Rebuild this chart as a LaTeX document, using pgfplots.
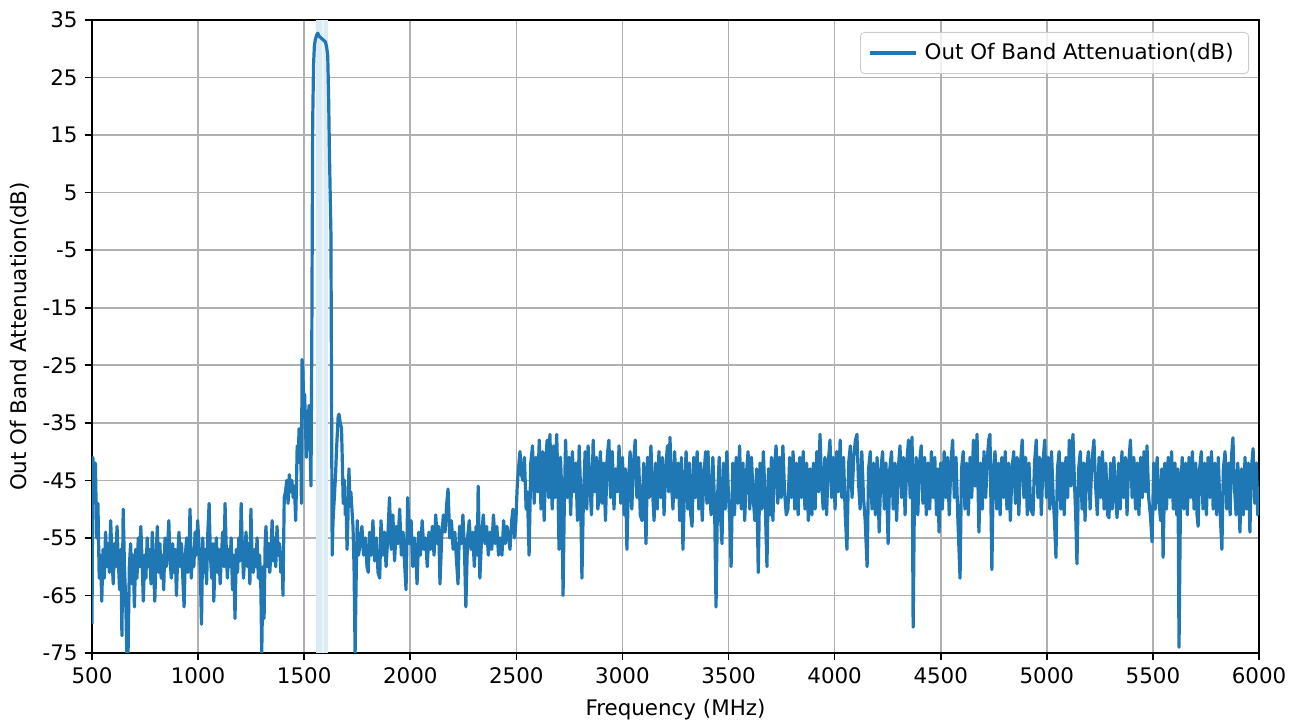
\documentclass[border=0pt]{standalone}
\usepackage{fontspec}
\setmainfont{DejaVu Sans}
\usepackage{pgfplots}
\pgfplotsset{compat=1.18}
\definecolor{mplblue}{RGB}{31,119,180}
\definecolor{band}{RGB}{218,235,243}
\definecolor{bandlight}{RGB}{235,244,249}
\definecolor{gridgray}{RGB}{176,176,176}
\definecolor{legframe}{RGB}{204,204,204}
\newcommand{\chartfont}{\fontsize{10.7}{12.8}\selectfont}
\begin{document}
\begin{tikzpicture}
\begin{axis}[
    scale only axis,
    width=583.5pt, height=316.5pt,
    xmin=500, xmax=6000, ymin=-75, ymax=35,
    xtick={500,1000,...,6000},
    ytick={-75,-65,...,35},
    grid=major,
    major grid style={color=gridgray, line width=0.85pt},
    axis line style={line width=0.85pt},
    tick align=outside, xtick pos=left, ytick pos=left,
    major tick length=3.7pt,
    tick style={black, line width=0.85pt},
    font=\chartfont,
    ticklabel style={font=\chartfont},
    /pgf/number format/assume math mode=true,
    /pgf/number format/fixed,
    /pgf/number format/1000 sep={},
    xlabel={Frequency (MHz)},
    ylabel={Out Of Band Attenuation(dB)},
    xlabel style={yshift=-1pt},
    legend style={at={(1,1)}, anchor=north east, xshift=-5pt, yshift=-6pt,
        draw=legframe, fill=white, fill opacity=0.8, text opacity=1,
        rounded corners=2pt, inner xsep=4pt, inner ysep=3.5pt,
        nodes={inner xsep=3.5pt},
        font=\chartfont},
    legend cell align=left,
    legend image code/.code={\draw[#1] (0pt,0pt) -- (23pt,0pt);},
]
\addplot[draw=none, fill=band, forget plot] coordinates {(1558,-75) (1558,35) (1612,35) (1612,-75)} -- cycle;
\addplot[draw=none, fill=bandlight, forget plot] coordinates {(1582,-75) (1582,35) (1592,35) (1592,-75)} -- cycle;
\addplot[color=mplblue, line width=1.6pt, line join=round] table {
500 -70
504 -41
510 -46
516 -42
522 -55
528 -49
534 -62
540 -58
546 -66
552 -57
558 -62
564 -54
570 -60
576 -56
582 -61
588 -52
594 -58
600 -63
606 -56
612 -60
618 -53
624 -59
630 -64
636 -57
641 -72
647 -50
653 -60
659 -66
664 -75
670 -75
676 -60
682 -56
688 -63
694 -58
700 -67
706 -57
712 -62
718 -55
724 -60
730 -53
736 -59
742 -66
748 -58
754 -62
760 -55
766 -60
772 -57
778 -63
784 -54
790 -60
796 -66
802 -58
808 -53
814 -61
820 -56
826 -62
832 -58
838 -64
844 -55
850 -60
856 -57
862 -52
868 -59
874 -62
880 -56
886 -61
892 -57
898 -65
904 -58
910 -54
916 -60
922 -56
928 -62
934 -67
940 -58
946 -55
952 -61
958 -56
962 -50
968 -62
974 -57
980 -60
986 -54
992 -58
998 -52
1004 -56
1010 -60
1016 -70
1022 -55
1028 -61
1034 -57
1040 -63
1046 -54
1052 -49
1058 -58
1064 -62
1070 -56
1074 -66
1080 -59
1086 -55
1092 -61
1098 -57
1104 -63
1110 -58
1116 -54
1122 -60
1127 -49
1132 -56
1138 -62
1144 -57
1150 -60
1156 -55
1162 -64
1168 -58
1174 -69
1180 -57
1186 -61
1192 -55
1198 -59
1203 -49
1208 -56
1214 -62
1220 -58
1226 -54
1232 -60
1238 -56
1244 -63
1249 -50
1254 -58
1260 -61
1266 -57
1272 -60
1278 -55
1284 -62
1290 -58
1296 -64
1300 -75
1306 -60
1311 -69
1316 -56
1320 -53
1326 -60
1332 -56
1338 -61
1344 -57
1349 -52
1354 -59
1360 -55
1366 -60
1372 -53
1378 -58
1384 -56
1390 -61
1396 -58
1400 -65
1406 -48
1412 -47
1418 -45
1424 -49
1430 -44
1436 -47
1442 -45
1448 -48
1454 -46
1460 -52
1464 -45
1467 -39
1472 -41
1476 -36
1480 -42
1484 -38
1487 -49
1490 -24
1494 -26
1498 -32
1502 -30
1506 -35
1510 -41
1514 -33
1518 -35
1523 -32
1528 -40
1532 -46
1536 -20
1540 17
1544 27
1548 30.5
1552 31.5
1558 32.3
1564 32.7
1570 32.2
1576 32.0
1582 31.8
1588 31.6
1594 31.4
1600 31.2
1606 30.3
1611 28.8
1615 22
1619 12
1623 4
1626 -2
1629 -30
1632 -58
1636 -52
1642 -48
1648 -44
1652 -40
1656 -37
1660 -34
1664 -33.5
1670 -35
1676 -36
1680 -42
1684 -49
1690 -45
1694 -51
1698 -50
1702 -57
1706 -52
1711 -43
1715 -48
1720 -47
1725 -50
1730 -53
1735 -60
1740 -75
1745 -62
1750 -52
1756 -58
1764 -56
1772 -53
1780 -58
1788 -55
1796 -60
1802 -61
1808 -54
1816 -58
1824 -52
1832 -59
1840 -55
1848 -61
1856 -62
1862 -52
1870 -58
1878 -54
1886 -60
1894 -55
1902 -48
1910 -57
1918 -51
1926 -59
1934 -53
1942 -56
1950 -50
1958 -58
1966 -54
1974 -60
1980 -64
1988 -48
1996 -56
2004 -52
2012 -60
2020 -55
2026 -58
2032 -63
2040 -54
2048 -58
2056 -52
2064 -57
2072 -55
2080 -60
2088 -54
2096 -57
2104 -53
2112 -58
2120 -51
2128 -56
2134 -53
2140 -63
2148 -55
2156 -51
2164 -54
2172 -49
2178 -46.5
2186 -55
2194 -52
2202 -57
2210 -54
2218 -59
2225 -63
2232 -53
2240 -56
2248 -51
2256 -58
2262 -67
2270 -55
2278 -52
2286 -57
2294 -54
2302 -60
2310 -53
2316 -58
2320 -46
2328 -62
2336 -55
2344 -51
2352 -56
2360 -53
2368 -58
2376 -54
2384 -57
2392 -51
2400 -56
2408 -53
2416 -58
2424 -55
2432 -58
2440 -52
2448 -56
2456 -53
2464 -55
2470 -57
2478 -52
2484 -50
2492 -55
2498 -52
2504 -46
2510 -43
2517 -40
2524 -44
2531 -45
2538 -41
2546 -50
2552 -47
2560 -58
2568 -42
2576 -39
2584 -49
2592 -41
2600 -47
2608 -38
2616 -50
2624 -40
2631 -52
2638 -42
2645 -38
2652 -48
2658 -37
2664 -45
2669 -50
2676 -39
2683 -48
2690 -37
2696 -46
2701 -57
2708 -41
2714 -47
2720 -65
2726 -49
2732 -38
2740 -48
2748 -41
2756 -51
2764 -40
2772 -47
2780 -42
2788 -52
2796 -39
2802 -46
2809 -62
2816 -48
2824 -40
2832 -50
2838 -39
2846 -45
2854 -51
2862 -38
2870 -47
2878 -41
2884 -50
2889 -48
2896 -40
2904 -49
2912 -42
2920 -52
2928 -41
2936 -38
2944 -48
2952 -40
2960 -50
2968 -43
2976 -47
2984 -39
2992 -49
3000 -41
3008 -51
3014 -43
3021 -57
3028 -46
3036 -40
3044 -50
3052 -42
3060 -38
3068 -48
3076 -41
3084 -51
3092 -52
3100 -42
3106 -49
3111 -56
3118 -41
3126 -48
3134 -39
3142 -47
3149 -52
3156 -42
3164 -50
3172 -40
3180 -48
3188 -41
3196 -51
3204 -43
3212 -39
3218 -47
3224 -37.5
3230 -45
3238 -50
3246 -40
3254 -48
3262 -42
3270 -52
3278 -41
3285 -57
3292 -47
3300 -40
3308 -50
3316 -42
3322 -51
3328 -53
3336 -41
3344 -48
3352 -40
3360 -50
3368 -42
3376 -52
3384 -44
3392 -40
3398 -49
3403 -40
3410 -47
3418 -51
3426 -41
3434 -49
3441 -67
3448 -48
3456 -41
3462 -51
3469 -56
3476 -42
3484 -50
3492 -40
3500 -48
3506 -52
3512 -60
3520 -42
3528 -51
3536 -41
3544 -49
3552 -39
3560 -50
3568 -42
3576 -52
3584 -44
3592 -40
3600 -50
3608 -41
3616 -48
3624 -52
3632 -43
3640 -61
3648 -42
3656 -50
3664 -40
3672 -48
3681 -60
3688 -43
3696 -51
3702 -41
3709 -52
3716 -43
3724 -39
3732 -49
3740 -41
3748 -48
3756 -39
3764 -47
3772 -51
3780 -50
3788 -41
3796 -48
3804 -40
3812 -50
3820 -42
3828 -51
3836 -41
3844 -48
3852 -40
3860 -50
3868 -42
3876 -52
3884 -43
3893 -51
3900 -42
3908 -50
3916 -40
3924 -47
3931 -37
3938 -45
3946 -50
3954 -41
3962 -51
3970 -42
3978 -38
3986 -48
3994 -41
4002 -50
4010 -40
4018 -47
4026 -38
4034 -48
4042 -41
4050 -51
4058 -57
4066 -42
4074 -39
4082 -48
4090 -41
4098 -38
4105 -37
4112 -45
4120 -50
4128 -40
4136 -48
4144 -52
4153 -60
4160 -43
4168 -40
4176 -50
4184 -42
4192 -51
4200 -41
4210 -54
4218 -43
4226 -40
4234 -50
4242 -42
4252 -56
4260 -43
4268 -40
4276 -50
4284 -42
4292 -52
4300 -43
4308 -39
4316 -48
4324 -41
4332 -51
4340 -42
4348 -38
4356 -48
4365 -37.5
4370 -70.5
4376 -48
4384 -41
4392 -51
4400 -42
4408 -39
4416 -49
4424 -41
4432 -51
4440 -42
4448 -50
4456 -40
4464 -48
4472 -41
4480 -51
4486 -43
4492 -54
4500 -42
4508 -50
4516 -40
4524 -48
4532 -41
4540 -51
4548 -42
4556 -38
4564 -48
4572 -41
4580 -51
4591 -62
4598 -43
4606 -40
4614 -50
4622 -42
4630 -51
4638 -41
4646 -48
4654 -38
4662 -46
4671 -37
4680 -54
4688 -42
4696 -50
4704 -40
4712 -48
4720 -41
4726 -38
4732 -37
4741 -60.5
4748 -43
4756 -40
4764 -50
4772 -42
4780 -51
4788 -41
4796 -48
4804 -40
4812 -50
4820 -42
4828 -52
4836 -43
4844 -40
4852 -49
4860 -41
4868 -51
4876 -42
4884 -38
4892 -48
4900 -41
4908 -51
4916 -42
4924 -50
4935 -51
4942 -42
4950 -38
4958 -48
4966 -41
4974 -51
4982 -42
4990 -38
4998 -48
5006 -41
5014 -50
5022 -40
5030 -48
5036 -52
5043 -58.4
5050 -43
5058 -40
5066 -50
5074 -42
5082 -51
5090 -41
5098 -48
5106 -38
5114 -46
5123 -37
5130 -45
5136 -51
5142 -59.5
5150 -43
5158 -40
5166 -50
5174 -42
5180 -52
5188 -43
5196 -40
5204 -50
5212 -42
5222 -38
5230 -46
5238 -51
5246 -41
5254 -48
5262 -40
5270 -50
5278 -42
5286 -51
5293 -51.5
5300 -42
5308 -50
5316 -41
5324 -48
5331 -51.5
5338 -42
5346 -50
5354 -40
5362 -48
5370 -41
5378 -51
5386 -42
5394 -38
5402 -48
5410 -41
5418 -50
5426 -42
5434 -51
5442 -41
5450 -48
5458 -40
5466 -47
5472 -39
5480 -48
5488 -51
5496 -55.7
5504 -42
5512 -50
5520 -41
5528 -48
5536 -52
5542 -43
5548 -58.4
5556 -42
5564 -50
5572 -41
5580 -48
5588 -40
5596 -50
5604 -42
5612 -51
5618 -43
5623 -74
5630 -48
5638 -41
5646 -50
5654 -42
5662 -51
5670 -41
5678 -48
5686 -40
5694 -50
5702 -42
5708 -51
5713 -53
5720 -43
5728 -40
5736 -50
5744 -42
5752 -51
5760 -41
5768 -48
5776 -40
5784 -50
5792 -42
5800 -51
5808 -41
5816 -50
5825 -57
5832 -43
5840 -40
5848 -50
5856 -42
5864 -51
5870 -41
5877 -37.6
5884 -46
5892 -51
5900 -42
5910 -54
5918 -43
5926 -51
5934 -41
5942 -50
5950 -42
5957 -54
5964 -43
5972 -39.5
5980 -49
5988 -42
5994 -51
6000 -46
};
\addlegendentry{Out Of Band Attenuation(dB)}
\end{axis}
\path (current axis.south west) ++(-46pt,-34.5pt) coordinate (bl);
\path (current axis.north east) ++(21pt,10pt) coordinate (tr);
\pgfresetboundingbox
\path[use as bounding box] (bl) rectangle (tr);
\end{tikzpicture}
\end{document}
